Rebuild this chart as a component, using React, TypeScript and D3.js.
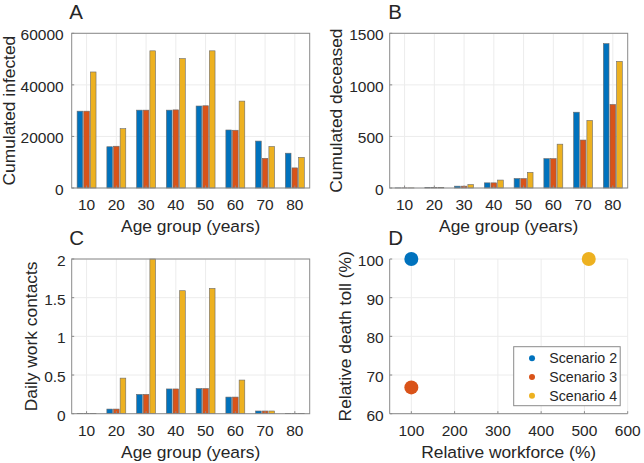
import * as d3 from "d3";

// Grid of small multiples: bars A-C by age group, scatter D
const AGE_GROUPS = ["10", "20", "30", "40", "50", "60", "70", "80"];
const SCENARIOS = ["Scenario 2", "Scenario 3", "Scenario 4"];
const COLORS = ["#0072BD", "#D95319", "#EDB120"];

const INFECTED_S2 = [29800, 16000, 30200, 30200, 31800, 22500, 18200, 13500];
const INFECTED_S3 = [29800, 16200, 30200, 30300, 31900, 22400, 11500, 7800];
const INFECTED_S4 = [45000, 23000, 53200, 50200, 53200, 33700, 16100, 11900];

const DECEASED_S2 = [1, 5, 18, 50, 92, 285, 735, 1400];
const DECEASED_S3 = [1, 5, 18, 50, 92, 285, 465, 810];
const DECEASED_S4 = [1, 6, 33, 77, 152, 425, 655, 1228];

const CONTACTS_S2 = [0.003, 0.06, 0.25, 0.32, 0.325, 0.215, 0.035, 0.003];
const CONTACTS_S3 = [0.003, 0.06, 0.25, 0.32, 0.325, 0.215, 0.035, 0.003];
const CONTACTS_S4 = [0.005, 0.46, 2, 1.59, 1.62, 0.435, 0.035, 0.005];

const INFECTED_TICKS = [0, 20000, 40000, 60000];
const DECEASED_TICKS = [0, 500, 1000, 1500];
const CONTACT_TICKS = [0, 0.5, 1, 1.5, 2];

const WORKFORCE = [100, 100, 510];
const DEATH_TOLL = [100, 66.8, 100];
const WORKFORCE_TICKS = [100, 200, 300, 400, 500, 600];
const DEATH_TICKS = [60, 70, 80, 90, 100];

const FONT = "'Liberation Sans', Arial, sans-serif";
const TEXT = "#262626";
const AXIS = "#8a8a8a";
const GRID = "#ececec";

const COL_X = [71.7, 389.7];
const ROW_Y = [33.3, 259];
const INNER_W = 238;
const INNER_H = 154.7;

interface FrameProps {
  x: number;
  y: number;
  letter: string;
  letterX: number;
  yLabel: string;
  yLabelX: number;
  xLabel: string;
  xPos: [string, number][];
  yPos: [string, number][];
  tickGap?: number;
  box?: boolean;
  children?: any;
}

function Frame({ x, y, letter, letterX, yLabel, yLabelX, xLabel, xPos, yPos, tickGap = 6, box = true, children }: FrameProps) {
  return (
    <g transform={`translate(${x},${y})`} fontFamily={FONT} fill={TEXT}>
      <text x={letterX} y={-14.5} fontSize={20.5}>{letter}</text>

      {/* grid */}
      {xPos.map(([l, px]) => (
        <line key={`gx${l}`} x1={px} x2={px} y1={0} y2={INNER_H} stroke={GRID} strokeWidth={1} />
      ))}
      {yPos.map(([l, py]) => (
        <line key={`gy${l}`} x1={0} x2={INNER_W} y1={py} y2={py} stroke={GRID} strokeWidth={1} />
      ))}

      {children}

      {/* frame */}
      {box && <rect x={0} y={0} width={INNER_W} height={INNER_H} fill="none" stroke={AXIS} strokeWidth={1} />}
      {!box && (
        <g stroke={AXIS} strokeWidth={1}>
          <line x1={0} x2={INNER_W} y1={INNER_H} y2={INNER_H} />
          <line x1={0} x2={0} y1={0} y2={INNER_H} />
        </g>
      )}

      {/* ticks */}
      {xPos.map(([l, px]) => (
        <g key={`tx${l}`}>
          <line x1={px} x2={px} y1={INNER_H} y2={INNER_H - 2.5} stroke={AXIS} />
          <text x={px} y={INNER_H + 22} fontSize={15.5} textAnchor="middle">{l}</text>
        </g>
      ))}
      {yPos.map(([l, py]) => (
        <g key={`ty${l}`}>
          <line x1={0} x2={2.5} y1={py} y2={py} stroke={AXIS} />
          <text x={-tickGap} y={py + 1.3} dy="0.36em" fontSize={15.5} textAnchor="end">{l}</text>
        </g>
      ))}

      <text x={INNER_W / 2} y={INNER_H + 44} fontSize={17.4} textAnchor="middle">{xLabel}</text>
      <text
        transform={`translate(${yLabelX},${INNER_H / 2}) rotate(-90)`}
        fontSize={17.4}
        textAnchor="middle"
      >
        {yLabel}
      </text>
    </g>
  );
}

interface BarProps {
  x: number;
  y: number;
  letter: string;
  letterX: number;
  yLabel: string;
  yLabelX: number;
  series: number[][];
  ticks: number[];
  tickGap?: number;
}

function BarPanel({ x, y, letter, letterX, yLabel, yLabelX, series, ticks, tickGap }: BarProps) {
  const xScale = d3.scaleBand().domain(AGE_GROUPS).range([0, INNER_W]);
  const yScale = d3.scaleLinear().domain([0, ticks[ticks.length - 1]]).range([INNER_H, 0]);
  const offset = xScale.bandwidth() * 0.223;
  const barW = xScale.bandwidth() * 0.19;

  return (
    <Frame
      x={x} y={y} letter={letter} letterX={letterX}
      yLabel={yLabel} yLabelX={yLabelX} xLabel="Age group (years)"
      xPos={AGE_GROUPS.map((g) => [g, (xScale(g) ?? 0) + xScale.bandwidth() / 2])}
      yPos={ticks.map((t) => [String(t), yScale(t)])}
      tickGap={tickGap}
    >
      {series.map((vals, s) => (
        <g key={SCENARIOS[s]}>
          {vals.map((v, i) => {
            const cx = (xScale(AGE_GROUPS[i]) ?? 0) + xScale.bandwidth() / 2 + (s - 1) * offset;
            return (
              <rect key={i}
                x={cx - barW / 2} y={yScale(v)} width={barW} height={INNER_H - yScale(v)}
                fill={COLORS[s]} stroke="#6b6b6b" strokeWidth={0.6}
              />
            );
          })}
        </g>
      ))}
    </Frame>
  );
}

function ScatterPanel() {
  const x0 = COL_X[1];
  const y0 = ROW_Y[1];
  const xScale = d3.scaleLinear().domain([50, 600]).range([0, INNER_W]);
  const yScale = d3.scaleLinear().domain([60, 100]).range([INNER_H, 0]);
  const legend = { x: 124, y: 87.7, w: 106.5, h: 59 };

  return (
    <Frame
      x={x0} y={y0} letter="D" letterX={-1.5}
      yLabel="Relative death toll (%)" yLabelX={-39} xLabel="Relative workforce (%)"
      xPos={WORKFORCE_TICKS.map((t) => [String(t), xScale(t)])}
      yPos={DEATH_TICKS.map((t) => [String(t), yScale(t)])}
      box={false}
    >
      {WORKFORCE.map((w, i) => (
        <circle key={SCENARIOS[i]} cx={xScale(w)} cy={yScale(DEATH_TOLL[i])} r={7} fill={COLORS[i]} />
      ))}

      {/* legend */}
      <rect x={legend.x} y={legend.y} width={legend.w} height={legend.h} fill="white" stroke={AXIS} strokeWidth={1} />
      {SCENARIOS.map((name, i) => {
        const ly = legend.y + 11.5 + i * 18.8;
        return (
          <g key={name}>
            <circle cx={legend.x + 18.3} cy={ly} r={3} fill={COLORS[i]} />
            <text x={legend.x + 35.5} y={ly} dy="0.36em" fontSize={14.2}>{name}</text>
          </g>
        );
      })}
    </Frame>
  );
}

export default function App() {
  return (
    <svg width={644} height={463} style={{ position: "absolute", left: 0, top: 0, background: "white" }}>
      <BarPanel
        x={COL_X[0]} y={ROW_Y[0]} letter="A" letterX={-2.4} yLabel="Cumulated infected" yLabelX={-56.7}
        series={[INFECTED_S2, INFECTED_S3, INFECTED_S4]} ticks={INFECTED_TICKS} tickGap={8}
      />
      <BarPanel
        x={COL_X[1]} y={ROW_Y[0]} letter="B" letterX={-1.5} yLabel="Cumulated deceased" yLabelX={-47.7}
        series={[DECEASED_S2, DECEASED_S3, DECEASED_S4]} ticks={DECEASED_TICKS}
      />
      <BarPanel
        x={COL_X[0]} y={ROW_Y[1]} letter="C" letterX={-2.4} yLabel="Daily work contacts" yLabelX={-35}
        series={[CONTACTS_S2, CONTACTS_S3, CONTACTS_S4]} ticks={CONTACT_TICKS}
      />
      <ScatterPanel />
    </svg>
  );
}
